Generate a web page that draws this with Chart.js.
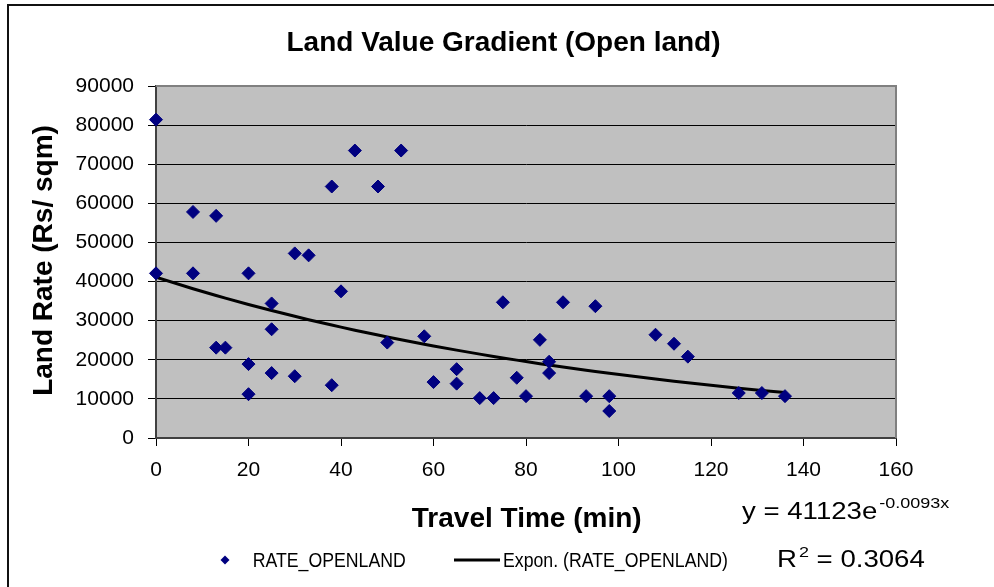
<!DOCTYPE html>
<html>
<head>
<meta charset="utf-8">
<script src="https://cdn.jsdelivr.net/npm/chart.js@4.4.0/dist/chart.umd.min.js"></script>
<style>
body{margin:0;background:#fff;}
canvas{display:block;}
</style>
</head>
<body>
<canvas id="grafico" width="994" height="587"></canvas>
<script>
// travel time (min) and land rate (Rs/sqm) for each parcel
var travelTime = [0, 0, 8, 8, 13, 13, 15, 20, 20, 20,
                  25, 25, 25, 30, 30, 33, 38, 38, 40, 43,
                  48, 50, 53, 58, 60, 65, 65, 70, 73, 75,
                  78, 80, 83, 85, 85, 88, 93, 95, 98, 98,
                  108, 112, 115, 126, 131, 136];
var landRate = [81400, 42100, 57800, 42100, 56800, 23100, 23100, 42100, 18900, 11200,
                34400, 27800, 16600, 47200, 15800, 46700, 64300, 13500, 37500, 73500,
                64300, 24400, 73500, 26000, 14300, 17600, 13900, 10200, 10200, 34700,
                15400, 10700, 25100, 19500, 16600, 34700, 10700, 33700, 10700, 6900,
                26400, 24100, 20800, 11500, 11500, 10700];

// exponential trendline as printed on the chart
var trendA = 41123;
var trendB = -0.0093;
var rSquared = '0.3064';

var serieName = 'RATE_OPENLAND';
var trendName = 'Expon. (RATE_OPENLAND)';

var pontos = [];
for (var i = 0; i < travelTime.length; i++) {
    pontos.push({x: travelTime[i], y: landRate[i]});
}
var tempos = travelTime.filter(function(v, i, a){ return a.indexOf(v) === i; });
var tendencia = tempos.map(function(t){
    return {x: t, y: trendA * Math.exp(trendB * t)};
});

var FONTE = '"Liberation Sans", Arial, sans-serif';

function texto(ctx, s, x, y, font, sx, align) {
    ctx.save();
    ctx.font = font;
    ctx.fillStyle = '#000';
    ctx.textBaseline = 'alphabetic';
    ctx.textAlign = align || 'left';
    ctx.translate(x, y);
    ctx.scale(sx, 1);
    ctx.fillText(s, 0, 0);
    var w = ctx.measureText(s).width * sx;
    ctx.restore();
    return w;
}

var enfeites = {
    id: 'enfeites',
    beforeDraw: function(chart){
        var ctx = chart.ctx, a = chart.chartArea;
        ctx.save();
        ctx.fillStyle = '#fff';
        ctx.fillRect(0, 0, chart.width, chart.height);
        ctx.fillStyle = '#c0c0c0';
        ctx.fillRect(a.left, a.top, a.right - a.left, a.bottom - a.top);
        ctx.strokeStyle = '#111';
        ctx.lineWidth = 2;
        ctx.strokeRect(8, 5, 1100, 1100);
        ctx.restore();
    },
    beforeDatasetsDraw: function(chart){
        var ctx = chart.ctx, a = chart.chartArea;
        ctx.save();
        ctx.strokeStyle = '#808080';
        ctx.lineWidth = 2;
        ctx.beginPath();
        ctx.moveTo(a.left, a.top);
        ctx.lineTo(a.right, a.top);
        ctx.lineTo(a.right, a.bottom);
        ctx.stroke();
        ctx.restore();
    },
    afterDraw: function(chart){
        var ctx = chart.ctx;
        // title and axis titles
        texto(ctx, 'Land Value Gradient (Open land)', 503.5, 51, 'bold 28px ' + FONTE, 1, 'center');
        texto(ctx, 'Travel Time (min)', 526.7, 527, 'bold 28px ' + FONTE, 1, 'center');
        ctx.save();
        ctx.translate(52, 260.5);
        ctx.rotate(-Math.PI / 2);
        texto(ctx, 'Land Rate (Rs/ sqm)', 0, 0, 'bold 28px ' + FONTE, 1, 'center');
        ctx.restore();

        // trendline equation
        var x = 742;
        x += texto(ctx, 'y = ' + trendA + 'e', x, 519, '23px ' + FONTE, 1.2);
        texto(ctx, String(trendB) + 'x', x + 2, 508, '15px ' + FONTE, 1.2);
        x = 777;
        x += texto(ctx, 'R', x, 567, '23px ' + FONTE, 1.2);
        x += texto(ctx, '2', x + 2, 557, '15px ' + FONTE, 1.2) + 2;
        texto(ctx, ' = ' + rSquared, x, 567, '23px ' + FONTE, 1.2);

        // legend
        var ds = chart.data.datasets;
        ctx.save();
        ctx.fillStyle = '#000080';
        ctx.beginPath();
        ctx.moveTo(225, 555.5);
        ctx.lineTo(229.5, 560);
        ctx.lineTo(225, 564.5);
        ctx.lineTo(220.5, 560);
        ctx.closePath();
        ctx.fill();
        ctx.strokeStyle = '#000';
        ctx.lineWidth = 3;
        ctx.beginPath();
        ctx.moveTo(454, 560);
        ctx.lineTo(500, 560);
        ctx.stroke();
        ctx.restore();
        texto(ctx, ds[0].label, 252.7, 566.5, '20px ' + FONTE, 0.885);
        texto(ctx, ds[1].label, 503, 566.5, '20px ' + FONTE, 0.885);
    }
};

window.onload = function(){
    var contexto = document.getElementById('grafico').getContext('2d');
    var grafico = new Chart(contexto, {
        type: 'scatter',
        data: {
            datasets: [{
                label: serieName,
                data: pontos,
                pointStyle: 'rectRot',
                pointRadius: 6.5,
                pointHoverRadius: 6.5,
                backgroundColor: '#000080',
                borderColor: '#000080',
                borderWidth: 1,
                clip: false,
                order: 0
            }, {
                label: trendName,
                data: tendencia,
                showLine: true,
                pointRadius: 0,
                borderColor: '#000',
                borderWidth: 3,
                fill: false,
                order: 1
            }]
        },
        options: {
            responsive: false,
            animation: false,
            devicePixelRatio: 1,
            layout: {padding: {top: 86, left: 0, right: 98, bottom: 0}},
            plugins: {
                legend: {display: false},
                title: {display: false},
                tooltip: {enabled: false}
            },
            scales: {
                x: {
                    type: 'linear',
                    min: 0,
                    max: 160,
                    afterFit: function(s){ s.height = 149; },
                    ticks: {
                        stepSize: 20,
                        maxRotation: 0,
                        autoSkip: false,
                        padding: 12,
                        color: '#000',
                        font: {family: FONTE, size: 21},
                        callback: function(v){ return String(v); }
                    },
                    grid: {
                        drawOnChartArea: false,
                        drawTicks: true,
                        tickLength: 8,
                        tickColor: '#000',
                        tickWidth: 1
                    },
                    border: {color: '#404040', width: 2}
                },
                y: {
                    min: 0,
                    max: 90000,
                    afterFit: function(s){ s.width = 156; },
                    ticks: {
                        stepSize: 10000,
                        padding: 14,
                        color: '#000',
                        font: {family: FONTE, size: 21},
                        callback: function(v){ return String(v); }
                    },
                    grid: {
                        color: function(c){ return c.tick && c.tick.value === 90000 ? '#808080' : '#000'; },
                        lineWidth: 1,
                        drawTicks: true,
                        tickLength: 8,
                        tickColor: '#000'
                    },
                    border: {color: '#404040', width: 2}
                }
            }
        },
        plugins: [enfeites]
    });
};
</script>
</body>
</html>
